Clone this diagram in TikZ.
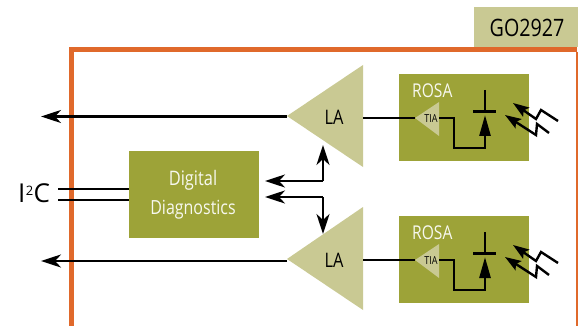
\documentclass[tikz,border=0pt]{standalone}
\usepackage{fontspec}
\setmainfont[FakeStretch=0.82]{Open Sans}
\newfontfamily\plainsans{Open Sans}
\usetikzlibrary{arrows.meta}
\definecolor{olive}{HTML}{9DA338}
\definecolor{pale}{HTML}{C9C993}
\definecolor{frameor}{HTML}{E0692B}
\tikzset{
 x=1pt,y=-1pt,
 oliveblock/.style={fill=olive,draw=none,inner sep=0pt,minimum width=130pt,minimum height=87pt},
 tri/.style={fill=pale,draw=none},
 wire/.style={line width=2.6pt,line join=miter},
 arr/.style={wire,-{Stealth[length=20pt,width=13pt,inset=6pt]}},
 small/.style={line width=2.4pt,line join=miter,-{Stealth[length=16pt,width=11pt,inset=3pt]}},
 lbl/.style={inner sep=0pt,text=black},
 wlbl/.style={inner sep=0pt,text=white!92!olive},
}
\newcommand{\rosablock}[2]{%
 \node[oliveblock,anchor=north west] (rosa#1) at (399,#2) {};
 \node[wlbl,font=\fontsize{19}{19}\selectfont,anchor=west] (rosat#1) at (412,#2+17) {ROSA};
 \coordinate (tiatip#1) at (415,#2+44);
 \fill[pale] (tiatip#1) -- (439,#2+28) -- (439,#2+62) -- cycle;
 \node[lbl,font=\fontsize{11}{11}\selectfont] (tia#1) at (431,#2+45) {TIA};
 \coordinate (tiaout#1) at (439,#2+44);
 \coordinate (diode#1) at (485,#2+41);
 \coordinate (bar#1a) at (473,#2+37.5);
 \coordinate (bar#1b) at (496,#2+37.5);
 \coordinate (top#1) at (485,#2+16);
 \draw[wire] (tiaout#1) -- (454,#2+44) -- (454,#2+74) -- (485,#2+74) -- (485,#2+60);
 \draw[wire,-{Stealth[length=21pt,width=11pt,inset=0pt]}] (485,#2+66) -- (diode#1);
 \draw[wire] (bar#1a) -- (bar#1b);
 \draw[wire] (top#1) -- (485,#2+37.5);
 \draw[small] (558,#2+47) -- (541,#2+36) -- (536,#2+45) -- (513,#2+29);
 \draw[small] (549,#2+59) -- (537,#2+50) -- (536,#2+61) -- (505,#2+41);
}
\begin{document}
\begin{tikzpicture}
\useasboundingbox (0,0) rectangle (578,326);
\fill[white] (0,0) rectangle (578,326);
% frame
\fill[pale] (474,7) rectangle (578,47);
\node[lbl,font=\fontsize{24}{24}\selectfont] (chip) at (527,28) {GO2927};
\draw[frameor,line width=5pt] (71,326) -- (71,49.5) -- (577,49.5);
\draw[frameor,line width=1.2pt] (577,52) -- (577,326);
% blocks
\rosablock{1}{74}
\rosablock{2}{216}
\fill[tri] (287,116) -- (363,65) -- (363,167) -- cycle;
\fill[tri] (287,259) -- (363,207) -- (363,310) -- cycle;
\coordinate (la1) at (287,116.5);
\coordinate (la2) at (287,261);
\coordinate (la1r) at (363,118);
\coordinate (la2r) at (363,260);
\node[lbl,font=\fontsize{20}{20}\selectfont] (la1t) at (334,117) {LA};
\node[lbl,font=\fontsize{20}{20}\selectfont] (la2t) at (334,260) {LA};
\draw[wire] (la1r) -- (tiatip1);
\draw[wire] (la2r) -- (tiatip2);
\coordinate (out1) at (41,116.5);
\coordinate (out2) at (41,261);
\draw[arr] (la1) -- (out1);
\draw[arr] (la2) -- (out2);
% digital diagnostics
\node[oliveblock,anchor=north west] (dd) at (129,151) {};
\node[wlbl,font=\fontsize{20}{20}\selectfont] (dd1) at (193,180.5) {Digital};
\node[wlbl,font=\fontsize{19.5}{20}\selectfont] (dd2) at (193,210) {Diagnostics};
\node[lbl,font=\plainsans\fontsize{26}{26}\selectfont] (i2c) at (34,193.5) {I\kern0.5pt\raisebox{7pt}{\fontsize{13}{13}\selectfont 2}\kern0.3pt C};
\coordinate (i2a) at (58,189);
\coordinate (i2b) at (58,200);
\draw[wire] (i2a) -- (i2a-|dd.west);
\draw[wire] (i2b) -- (i2b-|dd.west);
\coordinate (corner1) at (323,181);
\coordinate (corner2) at (323,197);
\draw[arr] (corner1) -- (265,181);
\draw[arr] (corner1) -- (323,145);
\draw[arr] (corner2) -- (265,197);
\draw[arr] (corner2) -- (323,234);
\end{tikzpicture}
\end{document}
